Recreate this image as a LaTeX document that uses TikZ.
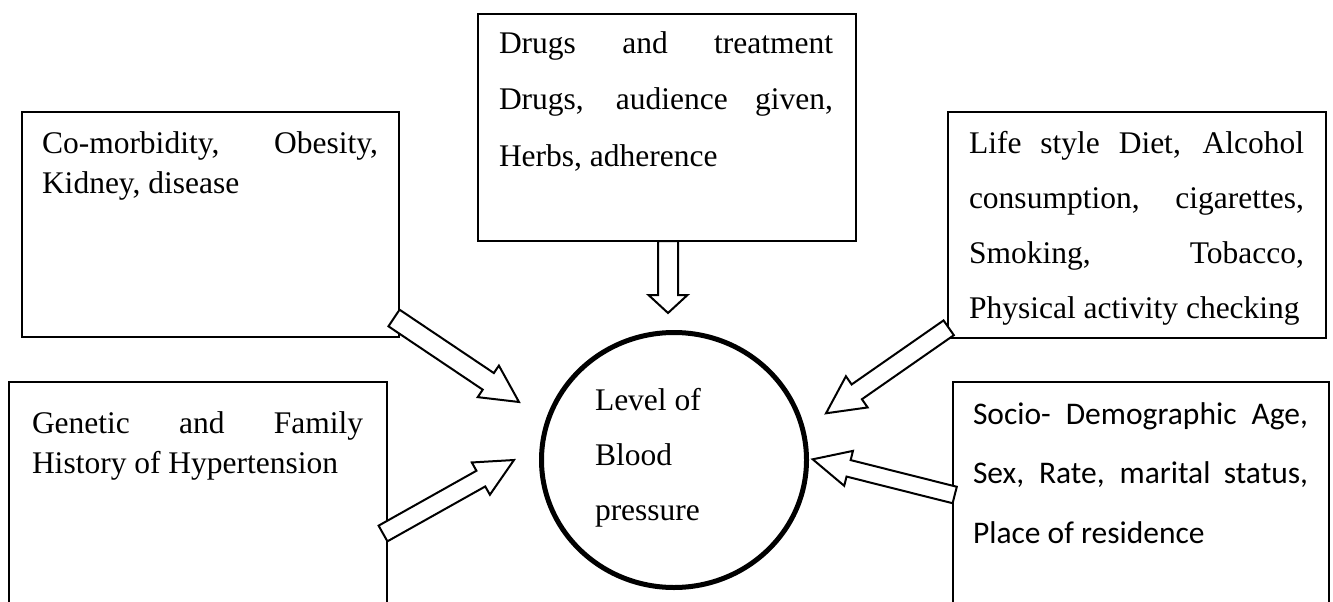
\documentclass[tikz,border=0pt]{standalone}
\usepackage{fontspec}
\setmainfont{Liberation Serif}
\newfontfamily\calfont{Carlito}
\usetikzlibrary{shapes.geometric}
\tikzset{
  boxst/.style={draw, line width=2pt, inner sep=0pt, outer sep=0pt, anchor=north west},
  txtst/.style={inner sep=0pt, outer sep=0pt, anchor=base west},
  arrowst/.style={draw, fill=white, line width=2pt, line join=miter},
  bpcirc/.style={ellipse, draw, line width=5pt, minimum width=265pt, minimum height=255pt, inner sep=0pt}
}
\newcommand\jl[1]{\makebox[\linewidth][s]{#1}}
\newcommand\blockarrow[8]{%
  \coordinate (#1-tail) at (#2,#3);
  \coordinate (#1-tip) at (#4,#5);
  \pgfmathsetmacro\baAng{atan2(#3-#5,#4-#2)}%
  \pgfmathsetmacro\baLen{veclen(#4-#2,#5-#3)}%
  \pgfmathsetmacro\baW{#6/2}%
  \pgfmathsetmacro\baH{#7/2}%
  \pgfmathsetmacro\baK{\baLen-#8}%
  \draw[arrowst, shift={(#1-tail)}, rotate=\baAng]
    (0pt,{-\baW*1pt}) -- ({\baK*1pt},{-\baW*1pt}) -- ({\baK*1pt},{-\baH*1pt})
    -- ({\baLen*1pt},0pt) -- ({\baK*1pt},{\baH*1pt}) -- ({\baK*1pt},{\baW*1pt})
    -- (0pt,{\baW*1pt}) -- cycle;
}
\begin{document}
\begin{tikzpicture}[x=1pt,y=-1pt]
\useasboundingbox (0,0) rectangle (1333,602);
\clip (0,0) rectangle (1333,602);
\fill[white] (0,0) rectangle (1333,602);

% boxes
\node[boxst, minimum width=378pt, minimum height=227pt] (drugsbox) at (478,14) {};
\node[boxst, minimum width=377pt, minimum height=225pt] (comorbox) at (22,112) {};
\node[boxst, minimum width=378pt, minimum height=226pt] (lifebox) at (948,112) {};
\node[boxst, minimum width=378pt, minimum height=300pt] (genbox) at (9,382) {};
\node[boxst, minimum width=376pt, minimum height=300pt] (sociobox) at (953,382) {};

% centre
\node[bpcirc] (bp) at (674,460) {};

% texts
\node[txtst] (drugstxt) at (499,54) {\parbox[t]{334pt}{\fontsize{31.5}{56}\selectfont
  \jl{Drugs and treatment}\\ \jl{Drugs, audience given,}\\ Herbs, adherence}};
\node[txtst] (comortxt) at (42,153) {\parbox[t]{336pt}{\fontsize{31.5}{40}\selectfont
  \jl{Co-morbidity, Obesity,}\\ Kidney, disease}};
\node[txtst] (lifetxt) at (969,153) {\parbox[t]{335pt}{\fontsize{31.5}{55}\selectfont
  \jl{Life style Diet, Alcohol}\\ \jl{consumption, cigarettes,}\\ \jl{Smoking, Tobacco,}\\ Physical activity checking}};
\node[txtst] (gentxt) at (32,433) {\parbox[t]{331pt}{\fontsize{31.5}{40}\selectfont
  \jl{Genetic and Family}\\ History of Hypertension}};
\node[txtst] (sociotxt) at (973,424) {\parbox[t]{335pt}{\calfont\fontsize{31.5}{59.5}\selectfont
  \jl{Socio- Demographic Age,}\\ \jl{Sex, Rate, marital status,}\\ Place of residence}};
\node[txtst] (bptxt) at (595,410) {\parbox[t]{160pt}{\fontsize{31.5}{55}\selectfont
  Level of\\ Blood\\ pressure}};

% block arrows
\blockarrow{adrugs}{668}{241}{668}{313}{20}{39}{18}
\blockarrow{acomor}{394}{318}{519}{402}{20}{38}{37}
\blockarrow{agen}{383}{533.5}{514}{460}{18}{37}{38}
\blockarrow{alife}{948.7}{327.8}{826}{413.3}{18}{38}{37.5}
\blockarrow{asocio}{954.7}{495}{812.7}{459.3}{17}{36}{37}
\end{tikzpicture}
\end{document}
